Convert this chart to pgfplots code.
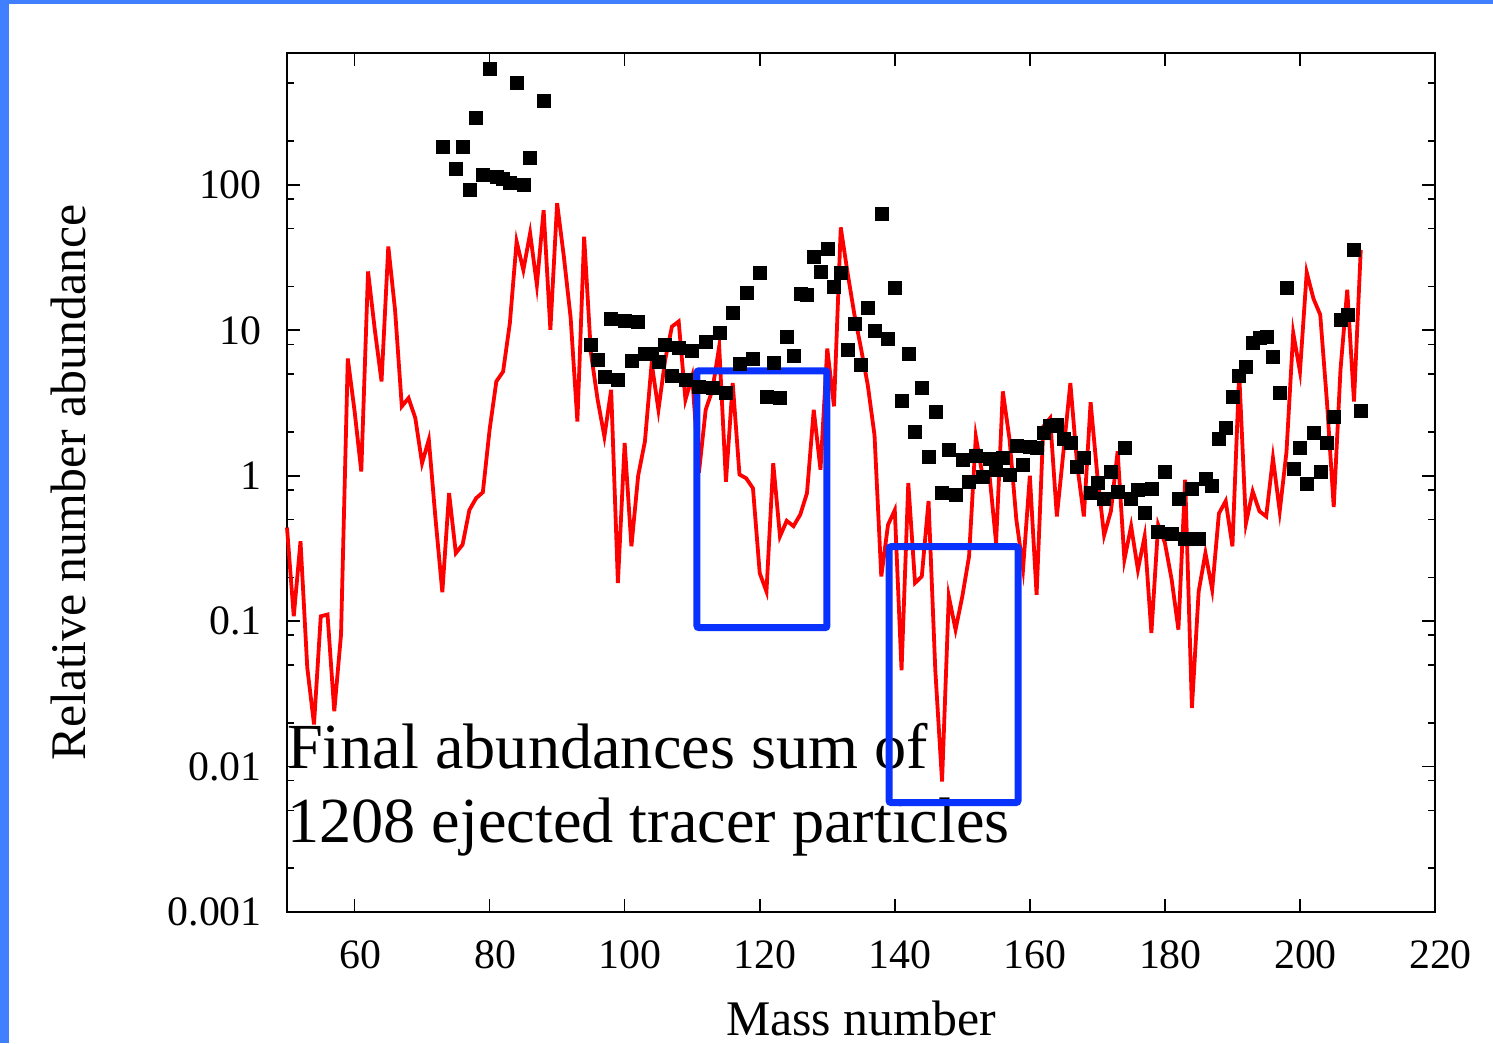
\documentclass[border=0pt]{standalone}
\usepackage{pgfplots}
\pgfplotsset{compat=1.18}
\usepackage{fontspec}
\setmainfont{Liberation Serif}
\definecolor{frameblue}{RGB}{64,128,255}
\definecolor{boxblue}{RGB}{10,50,255}
\begin{document}
\begin{tikzpicture}[x=1bp,y=1bp]
\useasboundingbox (0,0) rectangle (1493,1043);
\fill[frameblue] (0,0) rectangle (9,1043);
\fill[frameblue] (0,1039) rectangle (1493,1043);
\begin{axis}[
 at={(287bp,131bp)}, anchor=south west, scale only axis,
 width=1148bp, height=859bp,
 xmin=50, xmax=220, ymode=log, ymin=0.001, ymax=807,
 xtick={60,80,...,220}, xticklabels={60,80,100,120,140,160,180,200,220},
 ytick={0.001,0.01,0.1,1,10,100}, yticklabels={0.001,0.01,0.1,1,10,100},
 minor ytick={0.002,0.005,0.008,0.02,0.05,0.08,0.2,0.5,0.8,2,5,8,20,50,80,200,500},
 tick align=inside, major tick length=13bp, minor tick length=7bp,
 every tick/.style={black, line width=1.6bp},
 axis line style={line width=2.5bp},
 tick label style={font=\fontsize{42}{42}\selectfont, inner sep=0pt},
 yticklabel style={xshift=-25bp},
 xticklabel style={yshift=-28bp, xshift=5.5bp},
 xlabel={Mass number}, ylabel={Relative number abundance},
 label style={font=\fontsize{50}{50}\selectfont},
 xlabel style={at={(axis description cs:0.5,-0.1234)}, anchor=center},
 ylabel style={at={(axis description cs:-0.1908,0.5)}, anchor=center},
 clip=false,
]
\addplot[only marks, mark=square*, mark size=6.5bp, black] coordinates {
(73,183)(75,129)(76,183)(77,92.4)(78,289)(79,117)(80,627)(81,114)(82,111)(83,103)(84,505)(85,100.5)(86,154)(88,380)
(95,8.0)(96,6.3)(97,4.8)(98,12.1)(99,4.6)(100,11.7)(101,6.2)(102,11.5)(103,6.9)(104,6.9)(105,6.1)(106,7.9)(107,4.9)(108,7.6)(109,4.6)(110,7.2)
(111,4.1)(112,8.4)(113,4.0)(114,9.7)(115,3.7)(116,13.3)(117,5.9)(118,18.2)(119,6.4)(120,24.7)(121,3.5)(122,6.0)(123,3.45)(124,9.0)(125,6.7)
(126,17.8)(127,17.6)(128,32.2)(129,25.4)(130,36.3)(131,20)(132,24.8)(133,7.3)(134,11.1)(135,5.8)(136,14.3)(137,10)(138,63)(139,8.7)(140,19.7)
(141,3.3)(142,6.9)(143,2.0)(144,4.0)(145,1.36)(146,2.77)(147,0.76)(148,1.52)(149,0.74)(150,1.29)(151,0.91)(152,1.37)(153,0.99)(154,1.30)(155,1.1)
(156,1.34)(157,1.02)(158,1.61)(159,1.19)(160,1.59)(161,1.55)(162,1.97)(163,2.2)(164,2.24)(165,1.81)(166,1.68)(167,1.16)(168,1.34)(169,0.76)
(170,0.89)(171,0.70)(172,1.07)(173,0.78)(174,1.55)(175,0.70)(176,0.80)(177,0.56)(178,0.82)(179,0.41)(180,1.07)(181,0.40)(182,0.69)(183,0.37)
(184,0.81)(185,0.37)(186,0.96)(187,0.85)(188,1.79)(189,2.15)(190,3.5)(191,4.9)(192,5.65)(193,8.2)(194,8.9)(195,9.1)(196,6.6)
(197,3.7)(198,19.7)(199,1.12)(200,1.55)(201,0.88)(202,1.98)(203,1.07)(204,1.68)(205,2.56)(206,11.9)(207,12.8)(208,35.8)(209,2.81)
};
\addplot[red, line width=3.8bp, mark=none] coordinates {
(50,0.44)(51,0.108)(52,0.354)(53,0.048)(54,0.0195)(55,0.108)(56,0.111)(57,0.024)(58,0.081)(59,6.4)
(60,2.8)(61,1.07)(62,25.4)(63,10.1)(64,4.45)(65,37.7)(66,13.8)(67,3.0)(68,3.42)(69,2.49)
(70,1.22)(71,1.77)(72,0.5)(73,0.158)(74,0.76)(75,0.294)(76,0.336)(77,0.58)(78,0.70)(79,0.77)
(80,2.07)(81,4.45)(82,5.2)(83,11.2)(84,40.8)(85,26)(86,46.5)(87,20.5)(88,67)(89,10.1)
(90,74.8)(91,32)(92,12.2)(93,2.36)(94,44)(95,7.0)(96,3.33)(97,1.86)(98,3.9)(99,0.183)
(100,1.68)(101,0.327)(102,1.0)(103,1.72)(104,5.95)(105,2.84)(106,6.27)(107,10.6)(108,11.5)(109,3.33)
(110,4.82)(111,1.05)(112,2.84)(113,3.9)(114,7.74)(115,0.91)(116,4.34)(117,1.02)(118,0.96)(119,0.82)
(120,0.214)(121,0.16)(122,1.22)(123,0.383)(124,0.49)(125,0.45)(126,0.54)(127,0.76)(128,2.84)(129,1.1)
(130,7.5)(131,3.0)(132,51)(133,25)(134,13)(135,7.5)(136,4.2)(137,1.9)(138,0.203)(139,0.46)
(140,0.58)(141,0.046)(142,0.89)(143,0.183)(144,0.203)(145,0.67)(146,0.046)(147,0.0079)(148,0.148)(149,0.0875)
(150,0.148)(151,0.279)(152,1.86)(153,1.0)(154,1.04)(155,0.345)(156,3.8)(157,1.77)(158,0.5)(159,0.23)
(160,1.0)(161,0.152)(162,2.18)(163,2.49)(164,0.525)(165,1.5)(166,4.34)(167,1.2)(168,0.525)(169,3.2)
(170,1.0)(171,0.39)(172,0.57)(173,1.47)(174,0.265)(175,0.45)(176,0.226)(177,0.383)(178,0.083)(179,0.46)
(180,0.345)(181,0.193)(182,0.0875)(183,0.94)(184,0.0253)(185,0.16)(186,0.294)(187,0.165)(188,0.55)(189,0.67)
(190,0.327)(191,5.08)(192,0.47)(193,0.78)(194,0.57)(195,0.525)(196,1.32)(197,0.57)(198,1.45)(199,9.6)
(200,5.2)(201,25)(202,16.5)(203,12.8)(204,3.2)(205,0.61)(206,5.35)(207,19)(208,3.24)(209,35.7)
};
\node[anchor=base west, inner sep=0pt, font=\fontsize{64.5}{64.5}\selectfont] at (axis description cs:0,0.1676) {Final abundances sum of};
\node[anchor=base west, inner sep=0pt, font=\fontsize{64.5}{64.5}\selectfont] at (axis description cs:0,0.0815) {1208 ejected tracer particles};
\draw[boxblue, line width=7bp, rounded corners=2bp] (axis cs:110.71,5.27) rectangle (axis cs:129.96,0.0902);
\draw[boxblue, line width=7bp, rounded corners=2bp] (axis cs:139.15,0.325) rectangle (axis cs:158.25,0.00566);
\end{axis}
\end{tikzpicture}
\end{document}
